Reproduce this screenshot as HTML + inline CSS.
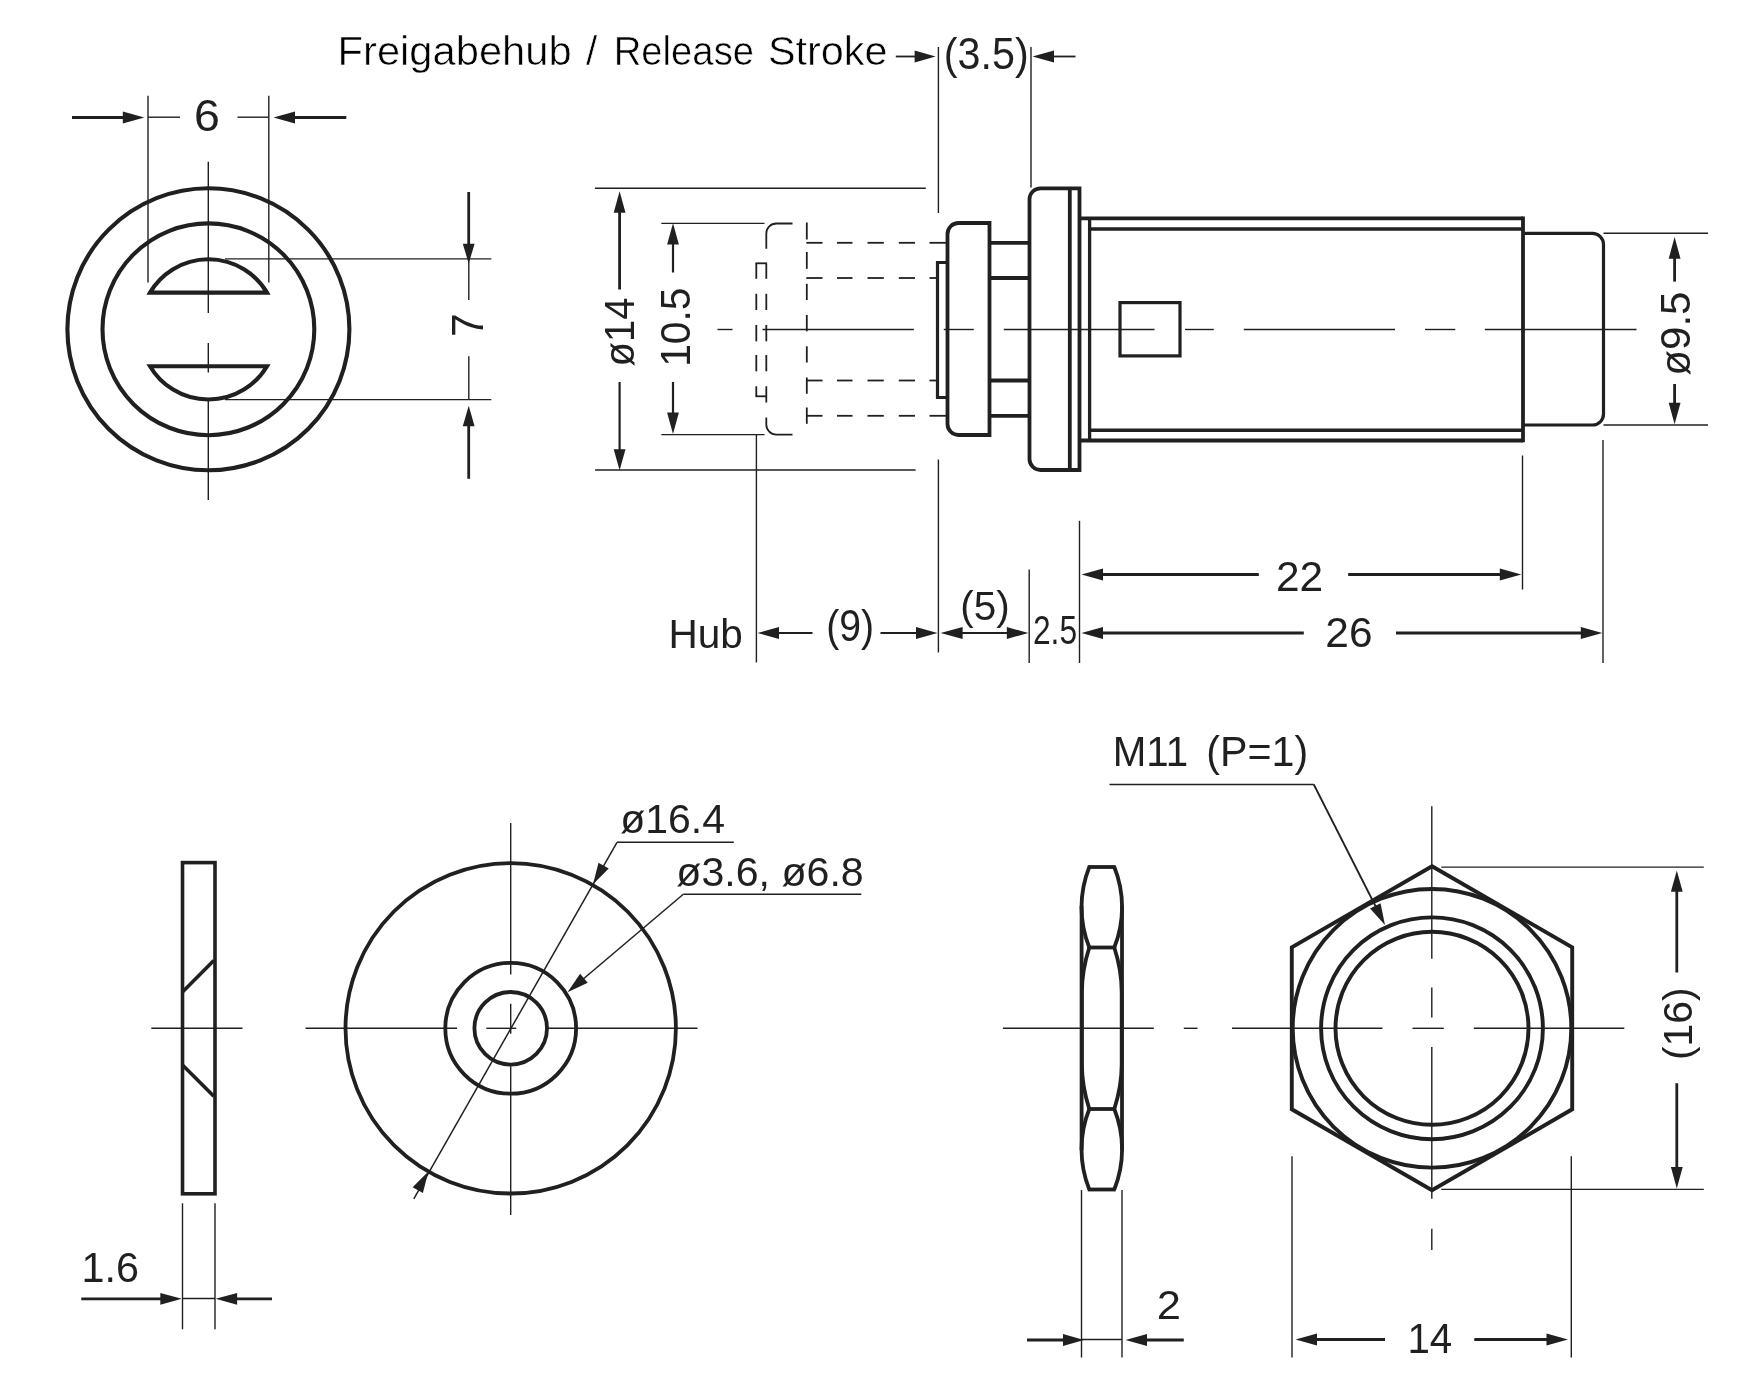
<!DOCTYPE html>
<html lang="de"><head><meta charset="utf-8"><title>Freigabehub / Release Stroke</title>
<style>
html,body{margin:0;padding:0;background:#fff;}
svg{display:block;filter:grayscale(1);}
text{font-family:"Liberation Sans",sans-serif;}
</style></head><body>
<svg width="1741" height="1376" viewBox="0 0 1741 1376" stroke="#231f20" stroke-linecap="butt">
<rect x="0" y="0" width="1741" height="1376" fill="#fff" stroke="none"/>
<circle cx="208.4" cy="329.3" r="141" stroke-width="4.1" fill="none"/>
<circle cx="208.4" cy="329.3" r="105.9" stroke-width="4.1" fill="none"/>
<path d="M150,292.6 L267,292.6 A68,68 0 0 0 150,292.6 Z" stroke-width="4.1" fill="none" />
<path d="M150,366.2 L267,366.2 A68,68 0 0 1 150,366.2 Z" stroke-width="4.1" fill="none" />
<line x1="208.3" y1="161.8" x2="208.3" y2="313" stroke-width="1.4" />
<line x1="208.3" y1="343" x2="208.3" y2="372.5" stroke-width="1.4" />
<line x1="208.3" y1="400" x2="208.3" y2="500" stroke-width="1.4" />
<line x1="148" y1="95.8" x2="148" y2="282.5" stroke-width="1.4" />
<line x1="268.8" y1="95.8" x2="268.8" y2="282.5" stroke-width="1.4" />
<line x1="148" y1="117.2" x2="180" y2="117.2" stroke-width="1.4" />
<line x1="237.5" y1="117.2" x2="268.8" y2="117.2" stroke-width="1.4" />
<polygon points="144.30,117.50 122.80,123.40 122.80,111.60" fill="#231f20" stroke="none"/>
<line x1="72" y1="117.5" x2="123.80000000000001" y2="117.5" stroke-width="2.8" />
<polygon points="273.50,117.50 295.00,111.60 295.00,123.40" fill="#231f20" stroke="none"/>
<line x1="294.0" y1="117.5" x2="346.3" y2="117.5" stroke-width="2.8" />
<text x="194.02" y="130.9" font-size="45" fill="#231f20" stroke="none" textLength="25.86" lengthAdjust="spacingAndGlyphs">6</text>
<line x1="225" y1="258.9" x2="491.3" y2="258.9" stroke-width="1.4" />
<line x1="225" y1="399.6" x2="491.3" y2="399.6" stroke-width="1.4" />
<line x1="468.8" y1="259" x2="468.8" y2="300" stroke-width="1.4" />
<line x1="468.8" y1="356.3" x2="468.8" y2="400" stroke-width="1.4" />
<polygon points="468.70,263.50 462.80,243.70 474.60,243.70" fill="#231f20" stroke="none"/>
<line x1="468.7" y1="192" x2="468.7" y2="244.7" stroke-width="2.8" />
<polygon points="468.70,405.80 474.60,426.20 462.80,426.20" fill="#231f20" stroke="none"/>
<line x1="468.7" y1="425.2" x2="468.7" y2="478.8" stroke-width="2.8" />
<text x="482.9" y="336.89" transform="rotate(-90 482.9 336.89)" font-size="44" fill="#231f20" stroke="none" textLength="23.61" lengthAdjust="spacingAndGlyphs">7</text>
<line x1="595" y1="188.2" x2="925.8" y2="188.2" stroke-width="1.4" />
<line x1="595" y1="470" x2="915.6" y2="470" stroke-width="1.4" />
<polygon points="619.60,191.30 625.50,212.80 613.70,212.80" fill="#231f20" stroke="none"/>
<line x1="619.6" y1="211.8" x2="619.6" y2="289.5" stroke-width="2.8" />
<polygon points="619.60,470.30 613.70,449.30 625.50,449.30" fill="#231f20" stroke="none"/>
<line x1="619.6" y1="382" x2="619.6" y2="450.3" stroke-width="2.2" />
<text x="633.8" y="366.42" transform="rotate(-90 633.8 366.42)" font-size="42" fill="#231f20" stroke="none" textLength="68.92" lengthAdjust="spacingAndGlyphs">ø14</text>
<line x1="661.3" y1="223.4" x2="764.5" y2="223.4" stroke-width="1.4" />
<line x1="661.3" y1="434.6" x2="764.5" y2="434.6" stroke-width="1.4" />
<polygon points="673.00,223.30 678.90,244.50 667.10,244.50" fill="#231f20" stroke="none"/>
<line x1="673" y1="243.5" x2="673" y2="272.5" stroke-width="2.2" />
<polygon points="673.00,434.00 667.10,412.50 678.90,412.50" fill="#231f20" stroke="none"/>
<line x1="673" y1="382" x2="673" y2="413.5" stroke-width="2.2" />
<text x="689.9" y="366.85" transform="rotate(-90 689.9 366.85)" font-size="42" fill="#231f20" stroke="none" textLength="79.40" lengthAdjust="spacingAndGlyphs">10.5</text>
<line x1="756.4" y1="435" x2="756.4" y2="662.5" stroke-width="1.4" />
<line x1="938.4" y1="47" x2="938.4" y2="213" stroke-width="1.4" />
<line x1="938.4" y1="459.5" x2="938.4" y2="652.5" stroke-width="1.4" />
<line x1="1031" y1="47" x2="1031" y2="187.5" stroke-width="1.4" />
<line x1="1029.2" y1="569.5" x2="1029.2" y2="663" stroke-width="1.4" />
<line x1="1079.5" y1="520.8" x2="1079.5" y2="663" stroke-width="1.4" />
<line x1="1522.5" y1="455.5" x2="1522.5" y2="589.5" stroke-width="1.4" />
<line x1="1603" y1="440" x2="1603" y2="663" stroke-width="1.4" />
<line x1="717.5" y1="329.5" x2="732.5" y2="329.5" stroke-width="1.4" />
<line x1="762.5" y1="329.5" x2="913.8" y2="329.5" stroke-width="1.4" />
<line x1="943.8" y1="329.5" x2="973.8" y2="329.5" stroke-width="1.4" />
<line x1="1003.8" y1="329.5" x2="1154.5" y2="329.5" stroke-width="1.4" />
<line x1="1185" y1="329.5" x2="1213.8" y2="329.5" stroke-width="1.4" />
<line x1="1243.8" y1="329.5" x2="1395" y2="329.5" stroke-width="1.4" />
<line x1="1425" y1="329.5" x2="1455.3" y2="329.5" stroke-width="1.4" />
<line x1="1484.8" y1="329.5" x2="1636.5" y2="329.5" stroke-width="1.4" />
<path d="M766.3,248.8 L766.3,233.5 A10,10 0 0 1 776.3,223.5 L792.5,223.5" stroke-width="1.8" fill="none" />
<path d="M766.3,417.5 L766.3,424.6 A10,10 0 0 0 776.3,434.6 L792.5,434.6" stroke-width="1.8" fill="none" />
<line x1="766.3" y1="263.3" x2="766.3" y2="278.8" stroke-width="1.8" />
<line x1="756.3" y1="263.3" x2="756.3" y2="278.8" stroke-width="1.8" />
<line x1="766.3" y1="293.8" x2="766.3" y2="310" stroke-width="1.8" />
<line x1="756.3" y1="293.8" x2="756.3" y2="310" stroke-width="1.8" />
<line x1="766.3" y1="325" x2="766.3" y2="341.3" stroke-width="1.8" />
<line x1="756.3" y1="325" x2="756.3" y2="341.3" stroke-width="1.8" />
<line x1="766.3" y1="355" x2="766.3" y2="371.3" stroke-width="1.8" />
<line x1="756.3" y1="355" x2="756.3" y2="371.3" stroke-width="1.8" />
<line x1="766.3" y1="386.3" x2="766.3" y2="402.5" stroke-width="1.8" />
<line x1="756.3" y1="386.3" x2="756.3" y2="396.3" stroke-width="1.8" />
<line x1="755.5" y1="263.3" x2="767" y2="263.3" stroke-width="1.8" />
<line x1="755.5" y1="396.3" x2="767" y2="396.3" stroke-width="1.8" />
<line x1="806.8" y1="222.5" x2="806.8" y2="239.5" stroke-width="1.8" />
<line x1="806.8" y1="252" x2="806.8" y2="268.8" stroke-width="1.8" />
<line x1="806.8" y1="283.8" x2="806.8" y2="300" stroke-width="1.8" />
<line x1="806.8" y1="315" x2="806.8" y2="331.3" stroke-width="1.8" />
<line x1="806.8" y1="346.3" x2="806.8" y2="362.5" stroke-width="1.8" />
<line x1="806.8" y1="377.5" x2="806.8" y2="393.8" stroke-width="1.8" />
<line x1="806.8" y1="407.5" x2="806.8" y2="423.8" stroke-width="1.8" />
<line x1="806.3" y1="242.8" x2="822.5" y2="242.8" stroke-width="1.8" />
<line x1="837" y1="242.8" x2="852.5" y2="242.8" stroke-width="1.8" />
<line x1="867.5" y1="242.8" x2="883.8" y2="242.8" stroke-width="1.8" />
<line x1="898.8" y1="242.8" x2="915" y2="242.8" stroke-width="1.8" />
<line x1="929.5" y1="242.8" x2="946.3" y2="242.8" stroke-width="1.8" />
<line x1="806.3" y1="415.8" x2="822.5" y2="415.8" stroke-width="1.8" />
<line x1="837" y1="415.8" x2="852.5" y2="415.8" stroke-width="1.8" />
<line x1="867.5" y1="415.8" x2="883.8" y2="415.8" stroke-width="1.8" />
<line x1="898.8" y1="415.8" x2="915" y2="415.8" stroke-width="1.8" />
<line x1="929.5" y1="415.8" x2="946.3" y2="415.8" stroke-width="1.8" />
<line x1="806.3" y1="278" x2="822.5" y2="278" stroke-width="1.8" />
<line x1="837" y1="278" x2="852.5" y2="278" stroke-width="1.8" />
<line x1="867.5" y1="278" x2="883.8" y2="278" stroke-width="1.8" />
<line x1="898.8" y1="278" x2="915" y2="278" stroke-width="1.8" />
<line x1="929.5" y1="278" x2="936.3" y2="278" stroke-width="1.8" />
<line x1="806.3" y1="380.5" x2="822.5" y2="380.5" stroke-width="1.8" />
<line x1="837" y1="380.5" x2="852.5" y2="380.5" stroke-width="1.8" />
<line x1="867.5" y1="380.5" x2="883.8" y2="380.5" stroke-width="1.8" />
<line x1="898.8" y1="380.5" x2="915" y2="380.5" stroke-width="1.8" />
<line x1="929.5" y1="380.5" x2="936.3" y2="380.5" stroke-width="1.8" />
<path d="M989.5,223 L958.5,223 A11,11 0 0 0 947.5,234 L947.5,424 A11,11 0 0 0 958.5,435 L989.5,435 Z" stroke-width="3.8" fill="none" />
<path d="M947.5,262.5 L937.5,262.5 L937.5,397.5 L947.5,397.5" stroke-width="3.2" fill="none" />
<line x1="989.5" y1="242.8" x2="1029.5" y2="242.8" stroke-width="3.8" />
<line x1="989.5" y1="278" x2="1029.5" y2="278" stroke-width="3.8" />
<line x1="989.5" y1="380.5" x2="1029.5" y2="380.5" stroke-width="3.8" />
<line x1="989.5" y1="415.8" x2="1029.5" y2="415.8" stroke-width="3.8" />
<path d="M1079.5,188.3 L1040.5,188.3 A11,11 0 0 0 1029.5,199.3 L1029.5,459 A11,11 0 0 0 1040.5,470 L1079.5,470 Z" stroke-width="3.8" fill="none" />
<line x1="1069.8" y1="188.3" x2="1069.8" y2="470" stroke-width="3.8" />
<line x1="1079.5" y1="218.3" x2="1523" y2="218.3" stroke-width="3.8" />
<line x1="1089.5" y1="228.9" x2="1523" y2="228.9" stroke-width="3.5" />
<line x1="1089.5" y1="430.2" x2="1523" y2="430.2" stroke-width="3.5" />
<line x1="1079.5" y1="440.5" x2="1523" y2="440.5" stroke-width="3.8" />
<line x1="1089.6" y1="218.3" x2="1089.6" y2="440.5" stroke-width="3.3" />
<line x1="1523" y1="216.5" x2="1523" y2="442.3" stroke-width="3.8" />
<path d="M1523,233.3 L1592.5,233.3 A11,11 0 0 1 1603.5,244.3 L1603.5,414 A11,11 0 0 1 1592.5,425 L1523,425" stroke-width="3.2" fill="none" />
<rect x="1120" y="302.6" width="60" height="53.3" fill="none" stroke-width="3.2"/>
<line x1="1603.5" y1="233.3" x2="1708" y2="233.3" stroke-width="1.4" />
<line x1="1603.5" y1="425" x2="1708" y2="425" stroke-width="1.4" />
<polygon points="1674.60,237.00 1680.50,258.70 1668.70,258.70" fill="#231f20" stroke="none"/>
<line x1="1674.6" y1="257.7" x2="1674.6" y2="281.6" stroke-width="2.8" />
<polygon points="1674.60,424.30 1668.70,402.80 1680.50,402.80" fill="#231f20" stroke="none"/>
<line x1="1674.6" y1="384" x2="1674.6" y2="403.8" stroke-width="2.8" />
<text x="1690" y="375.76" transform="rotate(-90 1690 375.76)" font-size="42.4" fill="#231f20" stroke="none" textLength="84.26" lengthAdjust="spacingAndGlyphs">ø9.5</text>
<text y="65.3" font-size="40.5" fill="#000" stroke="#fff" stroke-width="0.55"><tspan x="337.54" textLength="234.15" lengthAdjust="spacingAndGlyphs">Freigabehub</tspan> <tspan x="585.95" textLength="11.25" lengthAdjust="spacingAndGlyphs">/</tspan> <tspan x="613.71" textLength="140.34" lengthAdjust="spacingAndGlyphs">Release</tspan> <tspan x="767.91" textLength="119.57" lengthAdjust="spacingAndGlyphs">Stroke</tspan></text>
<polygon points="935.60,56.50 914.60,62.40 914.60,50.60" fill="#231f20" stroke="none"/>
<line x1="895.8" y1="56.5" x2="915.6" y2="56.5" stroke-width="1.8" />
<polygon points="1032.50,56.50 1054.00,50.60 1054.00,62.40" fill="#231f20" stroke="none"/>
<line x1="1053.0" y1="56.5" x2="1075.5" y2="56.5" stroke-width="1.8" />
<text x="943.76" y="69.4" font-size="43.5" fill="#231f20" stroke="none" textLength="84.98" lengthAdjust="spacingAndGlyphs">(3.5)</text>
<text x="668.43" y="647.6" font-size="41" fill="#231f20" stroke="none" textLength="74.41" lengthAdjust="spacingAndGlyphs">Hub</text>
<polygon points="757.50,633.00 779.00,627.10 779.00,638.90" fill="#231f20" stroke="none"/>
<line x1="778.0" y1="633" x2="812.5" y2="633" stroke-width="2.0" />
<text x="826.16" y="641.2" font-size="43.5" fill="#231f20" stroke="none" textLength="47.86" lengthAdjust="spacingAndGlyphs">(9)</text>
<polygon points="937.50,633.00 916.00,638.90 916.00,627.10" fill="#231f20" stroke="none"/>
<line x1="880.5" y1="633" x2="917.0" y2="633" stroke-width="2.0" />
<polygon points="940.60,633.00 962.60,627.10 962.60,638.90" fill="#231f20" stroke="none"/>
<polygon points="1028.30,633.00 1006.80,638.90 1006.80,627.10" fill="#231f20" stroke="none"/>
<line x1="961.6" y1="633" x2="1007.8" y2="633" stroke-width="2.0" />
<text x="960.20" y="619.8" font-size="41.3" fill="#231f20" stroke="none" textLength="49.49" lengthAdjust="spacingAndGlyphs">(5)</text>
<text x="1032.91" y="643.9" font-size="41.3" fill="#231f20" stroke="none" textLength="44.18" lengthAdjust="spacingAndGlyphs">2.5</text>
<polygon points="1081.50,574.50 1103.00,568.60 1103.00,580.40" fill="#231f20" stroke="none"/>
<line x1="1102.0" y1="574.5" x2="1258.8" y2="574.5" stroke-width="2.8" />
<polygon points="1521.30,574.50 1499.80,580.40 1499.80,568.60" fill="#231f20" stroke="none"/>
<line x1="1348.2" y1="574.5" x2="1500.8" y2="574.5" stroke-width="2.8" />
<text x="1276.01" y="590.8" font-size="42" fill="#231f20" stroke="none" textLength="47.21" lengthAdjust="spacingAndGlyphs">22</text>
<polygon points="1081.50,633.00 1103.00,627.10 1103.00,638.90" fill="#231f20" stroke="none"/>
<line x1="1102.0" y1="633" x2="1303.8" y2="633" stroke-width="2.8" />
<polygon points="1602.30,633.00 1580.80,638.90 1580.80,627.10" fill="#231f20" stroke="none"/>
<line x1="1396" y1="633" x2="1581.8" y2="633" stroke-width="2.8" />
<text x="1325.31" y="646.6" font-size="42" fill="#231f20" stroke="none" textLength="47.21" lengthAdjust="spacingAndGlyphs">26</text>
<rect x="182.5" y="862.6" width="32.5" height="331.2" fill="none" stroke-width="3.6"/>
<line x1="182.5" y1="992" x2="213.8" y2="960.5" stroke-width="3.6" />
<line x1="182.5" y1="1065" x2="213.8" y2="1096.3" stroke-width="3.6" />
<line x1="151.3" y1="1028.3" x2="242.5" y2="1028.3" stroke-width="1.4" />
<line x1="182.5" y1="1203.3" x2="182.5" y2="1329.3" stroke-width="1.4" />
<line x1="215" y1="1203.3" x2="215" y2="1329.3" stroke-width="1.4" />
<line x1="182.5" y1="1298.5" x2="215" y2="1298.5" stroke-width="1.4" />
<polygon points="181.80,1298.80 160.30,1304.70 160.30,1292.90" fill="#231f20" stroke="none"/>
<line x1="81.3" y1="1298.8" x2="161.3" y2="1298.8" stroke-width="2.8" />
<polygon points="215.60,1298.80 237.10,1292.90 237.10,1304.70" fill="#231f20" stroke="none"/>
<line x1="236.1" y1="1298.8" x2="272" y2="1298.8" stroke-width="2.8" />
<text x="81.42" y="1282.1" font-size="42" fill="#231f20" stroke="none" textLength="57.46" lengthAdjust="spacingAndGlyphs">1.6</text>
<circle cx="510.7" cy="1028.3" r="165.2" stroke-width="3.8" fill="none"/>
<circle cx="510.7" cy="1028.3" r="65.4" stroke-width="3.8" fill="none"/>
<circle cx="510.7" cy="1028.3" r="36.3" stroke-width="3.8" fill="none"/>
<line x1="305.5" y1="1028.3" x2="457" y2="1028.3" stroke-width="1.4" />
<line x1="486.3" y1="1028.3" x2="516.3" y2="1028.3" stroke-width="1.4" />
<line x1="547.5" y1="1028.3" x2="697.5" y2="1028.3" stroke-width="1.4" />
<line x1="510.7" y1="823" x2="510.7" y2="974.5" stroke-width="1.4" />
<line x1="510.7" y1="1003.8" x2="510.7" y2="1033.8" stroke-width="1.4" />
<line x1="510.7" y1="1066.3" x2="510.7" y2="1215" stroke-width="1.4" />
<line x1="617" y1="842.3" x2="733.8" y2="842.3" stroke-width="1.4" />
<line x1="617" y1="842.3" x2="413.8" y2="1198.8" stroke-width="1.5" />
<polygon points="593.00,884.30 598.52,862.70 608.77,868.54" fill="#231f20" stroke="none"/>
<polygon points="428.40,1171.40 422.88,1193.00 412.63,1187.16" fill="#231f20" stroke="none"/>
<text x="620.26" y="833.3" font-size="41.5" fill="#231f20" stroke="none" textLength="104.76" lengthAdjust="spacingAndGlyphs">ø16.4</text>
<line x1="683.3" y1="894.3" x2="861.3" y2="894.3" stroke-width="1.4" />
<line x1="683.3" y1="894.3" x2="575" y2="986" stroke-width="1.5" />
<polygon points="567.50,992.20 580.11,973.81 587.73,982.82" fill="#231f20" stroke="none"/>
<text x="676.36" y="886.2" font-size="41.5" fill="#231f20" stroke="none" textLength="187.31" lengthAdjust="spacingAndGlyphs">ø3.6, ø6.8</text>
<path d="M1089.3,867 A108,108 0 0 0 1089.3,947.5 M1114.3,867 A108,108 0 0 1 1114.3,947.5" stroke-width="3.8" fill="none" />
<path d="M1089.3,1109 A108,108 0 0 0 1089.3,1189.5 M1114.3,1109 A108,108 0 0 1 1114.3,1189.5" stroke-width="3.8" fill="none" />
<path d="M1089.3,947.5 C1084.8,961.5 1081.8999999999999,975 1081.8999999999999,992 L1081.8999999999999,1064.5 C1081.8999999999999,1081.5 1084.8,1095 1089.3,1109" stroke-width="3.8" fill="none" />
<path d="M1114.3,947.5 C1118.8,961.5 1121.7,975 1121.7,992 L1121.7,1064.5 C1121.7,1081.5 1118.8,1095 1114.3,1109" stroke-width="3.8" fill="none" />
<line x1="1081.6" y1="906" x2="1081.6" y2="1150" stroke-width="3.8" />
<line x1="1122.0" y1="906" x2="1122.0" y2="1150" stroke-width="3.8" />
<line x1="1087.8" y1="867" x2="1115.8" y2="867" stroke-width="3.8" />
<line x1="1087.8" y1="1189.5" x2="1115.8" y2="1189.5" stroke-width="3.8" />
<line x1="1087.8" y1="947.5" x2="1115.8" y2="947.5" stroke-width="3.8" />
<line x1="1087.8" y1="1109" x2="1115.8" y2="1109" stroke-width="3.8" />
<line x1="1003" y1="1028.3" x2="1153.8" y2="1028.3" stroke-width="1.4" />
<line x1="1183.8" y1="1028.3" x2="1197.5" y2="1028.3" stroke-width="1.4" />
<line x1="1232" y1="1028.3" x2="1382.5" y2="1028.3" stroke-width="1.4" />
<line x1="1412.5" y1="1028.3" x2="1443.8" y2="1028.3" stroke-width="1.4" />
<line x1="1473.8" y1="1028.3" x2="1624.3" y2="1028.3" stroke-width="1.4" />
<line x1="1081.5" y1="1190" x2="1081.5" y2="1357.5" stroke-width="1.4" />
<line x1="1122" y1="1190" x2="1122" y2="1357.5" stroke-width="1.4" />
<line x1="1081.5" y1="1339.5" x2="1122" y2="1339.5" stroke-width="1.4" />
<polygon points="1084.00,1340.00 1063.00,1345.90 1063.00,1334.10" fill="#231f20" stroke="none"/>
<line x1="1027" y1="1340" x2="1064.0" y2="1340" stroke-width="2.8" />
<polygon points="1125.50,1340.00 1147.00,1334.10 1147.00,1345.90" fill="#231f20" stroke="none"/>
<line x1="1146.0" y1="1340" x2="1183.8" y2="1340" stroke-width="2.8" />
<text x="1156.66" y="1319.1" font-size="41.5" fill="#231f20" stroke="none" textLength="24.20" lengthAdjust="spacingAndGlyphs">2</text>
<polygon points="1432.00,866.30 1572.20,947.30 1572.20,1109.30 1432.00,1190.30 1291.80,1109.30 1291.80,947.30" fill="none" stroke-width="3.9"/>
<circle cx="1432.0" cy="1028.3" r="139.3" stroke-width="3.9" fill="none"/>
<circle cx="1432.0" cy="1028.3" r="110.9" stroke-width="3.9" fill="none"/>
<circle cx="1432.0" cy="1028.3" r="96.5" stroke-width="3.9" fill="none"/>
<line x1="1431.8" y1="806.3" x2="1431.8" y2="958.8" stroke-width="1.4" />
<line x1="1431.8" y1="987.5" x2="1431.8" y2="1017.5" stroke-width="1.4" />
<line x1="1431.8" y1="1047" x2="1431.8" y2="1198.8" stroke-width="1.4" />
<line x1="1431.8" y1="1228.8" x2="1431.8" y2="1250" stroke-width="1.4" />
<line x1="1109.5" y1="784.5" x2="1313.8" y2="784.5" stroke-width="1.6" />
<line x1="1313.8" y1="784.5" x2="1380" y2="915" stroke-width="1.8" />
<polygon points="1385.00,925.00 1370.02,908.49 1380.54,903.15" fill="#231f20" stroke="none"/>
<text y="765.8" font-size="42" fill="#231f20" stroke="none"><tspan x="1112.75" textLength="75.38" lengthAdjust="spacingAndGlyphs">M11</tspan> <tspan x="1206.37" textLength="101.86" lengthAdjust="spacingAndGlyphs">(P=1)</tspan></text>
<line x1="1441.3" y1="867.1" x2="1703.8" y2="867.1" stroke-width="1.4" />
<line x1="1441.3" y1="1189.4" x2="1703.8" y2="1189.4" stroke-width="1.4" />
<polygon points="1676.80,870.50 1682.70,891.70 1670.90,891.70" fill="#231f20" stroke="none"/>
<line x1="1676.8" y1="890.7" x2="1676.8" y2="972.5" stroke-width="2.8" />
<polygon points="1676.80,1188.50 1670.90,1167.00 1682.70,1167.00" fill="#231f20" stroke="none"/>
<line x1="1676.8" y1="1083.2" x2="1676.8" y2="1168.0" stroke-width="2.8" />
<text x="1692.3" y="1060.02" transform="rotate(-90 1692.3 1060.02)" font-size="41" fill="#231f20" stroke="none" textLength="72.73" lengthAdjust="spacingAndGlyphs">(16)</text>
<line x1="1292" y1="1156.3" x2="1292" y2="1357.5" stroke-width="1.4" />
<line x1="1571.3" y1="1156.3" x2="1571.3" y2="1357.5" stroke-width="1.4" />
<polygon points="1295.50,1339.50 1317.00,1333.60 1317.00,1345.40" fill="#231f20" stroke="none"/>
<line x1="1316.0" y1="1339.5" x2="1385" y2="1339.5" stroke-width="2.8" />
<polygon points="1568.00,1339.50 1546.50,1345.40 1546.50,1333.60" fill="#231f20" stroke="none"/>
<line x1="1474.3" y1="1339.5" x2="1547.5" y2="1339.5" stroke-width="2.8" />
<text x="1407.38" y="1353.4" font-size="42.4" fill="#231f20" stroke="none" textLength="44.82" lengthAdjust="spacingAndGlyphs">14</text>
</svg>
</body></html>
